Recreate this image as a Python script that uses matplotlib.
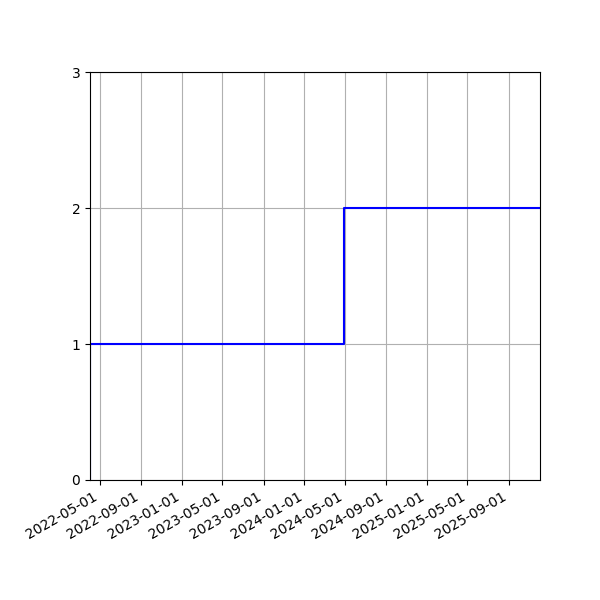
import matplotlib
matplotlib.use("Agg")
import matplotlib.pyplot as plt
import matplotlib.dates as mdates
import numpy as np

dates = np.array(["2022-04-01", "2022-04-02", "2024-04-29", "2025-12-04"], dtype="datetime64[D]")
counts = [0, 1, 2, 2]
yticks = [0, 1, 2, 3]

fig, ax = plt.subplots(figsize=(6, 6), dpi=100)
ax.step(dates, counts, where="post", color="blue")
ax.set_xlim(dates[0], dates[-1])
ax.set_ylim(0, 3)
ax.set_yticks(yticks)
ax.xaxis.set_major_locator(mdates.MonthLocator(bymonth=[1, 5, 9], bymonthday=1))
ax.xaxis.set_major_formatter(mdates.DateFormatter("%Y-%m-%d"))
ax.grid(True)
fig.autofmt_xdate()
fig.subplots_adjust(left=0.15, right=0.9, top=0.88, bottom=0.2)
fig.savefig("out.png", dpi=100)
